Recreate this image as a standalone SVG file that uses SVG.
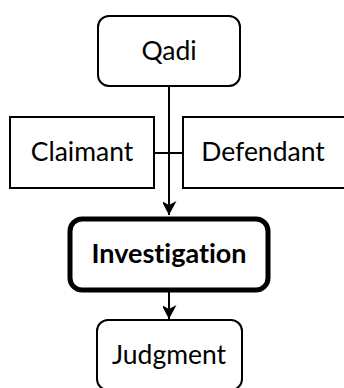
<svg xmlns="http://www.w3.org/2000/svg" width="344" height="388" viewBox="0 0 344 388">
<style>
.box{fill:#fff;stroke:#000;stroke-width:2}
.bold{fill:#fff;stroke:#000;stroke-width:5}
.lbl{font-family:Lato,"Liberation Sans",sans-serif;font-size:26.5px;fill:#000;text-anchor:middle;font-variant-ligatures:none}
.b{font-weight:bold;font-size:27px}
.con{fill:none;stroke:#000;stroke-width:2}
</style>
<defs>
<marker id="ah" markerUnits="userSpaceOnUse" markerWidth="16" markerHeight="14" refX="14" refY="7.5" orient="auto">
<path d="M0,0 L14,7.5 L0,15 L4,7.5 Z" fill="#000"/>
</marker>
</defs>
<rect width="344" height="388" fill="#fff"/>
<g id="connectors">
<line class="con" x1="169" y1="86" x2="169" y2="215" marker-end="url(#ah)"/>
<line class="con" x1="154" y1="153" x2="183" y2="153"/>
<line class="con" x1="169" y1="292" x2="169" y2="319" marker-end="url(#ah)"/>
</g>
<g id="qadi">
<rect class="box" x="98" y="16" width="142" height="70" rx="11"/>
<text class="lbl" x="169" y="60">Qadi</text>
</g>
<g id="claimant">
<rect class="box" x="10" y="117" width="144" height="71"/>
<text class="lbl" x="82" y="161">Claimant</text>
</g>
<g id="defendant">
<rect class="box" x="183" y="117" width="170" height="71"/>
<text class="lbl" x="263" y="161">Defendant</text>
</g>
<g id="investigation">
<rect class="bold" x="70" y="219" width="198" height="71" rx="12"/>
<text class="lbl b" x="169" y="263">Investigation</text>
</g>
<g id="judgment">
<rect class="box" x="97" y="320" width="145" height="70" rx="11"/>
<text class="lbl" x="169" y="364">Judgment</text>
</g>
</svg>
